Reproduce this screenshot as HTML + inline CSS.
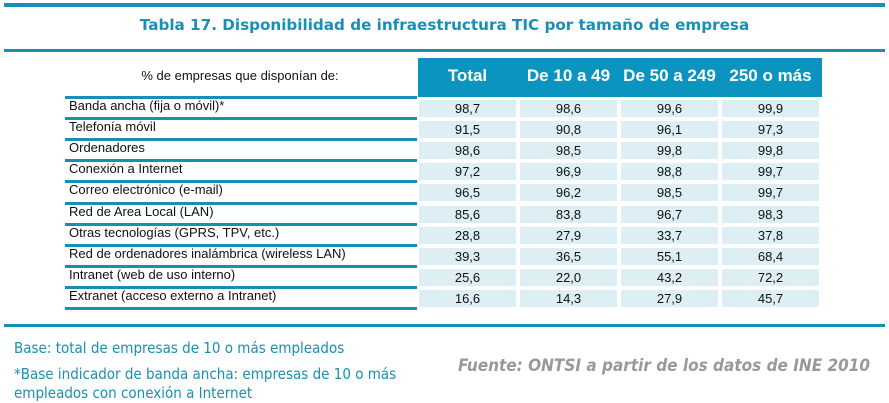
<!DOCTYPE html>
<html><head><meta charset="utf-8">
<style>
body{margin:0;width:889px;height:401px;background:#fff;position:relative;overflow:hidden;font-family:"Liberation Sans",sans-serif}
.a{position:absolute}
.hl{position:absolute;background:#1890b4}
.title{left:0;width:889px;top:16px;text-align:center;color:#1a8fb5;font:bold 15.2px "DejaVu Sans",sans-serif}
.hd{position:absolute;top:58px;height:39px;background:#0b94c0}
.hdt{position:absolute;top:66px;color:#fff;font-weight:bold;font-size:17px;text-align:center}
.lab{position:absolute;left:69px;font-size:13px;color:#111}
.cell{position:absolute;background:#ddeff5;font-size:13px;color:#111;text-align:center}
.note{position:absolute;left:14px;font:15px "DejaVu Sans Condensed","DejaVu Sans",sans-serif;color:#1a8fb5;transform-origin:0 0;white-space:nowrap}
</style></head><body>
<div class="hl" style="left:4px;top:3px;width:881px;height:4px"></div>
<div class="a title">Tabla 17. Disponibilidad de infraestructura TIC por tamaño de empresa</div>
<div class="hl" style="left:4px;top:49px;width:881px;height:3px"></div>
<div class="a" style="left:65px;width:350px;top:68px;text-align:center;font-size:13px;color:#111">% de empresas que disponían de:</div>
<div class="hd" style="left:418px;width:404px"></div>
<div id="tbl"></div>
<div class="hl" style="left:4px;top:324px;width:881px;height:3px"></div>
<div class="note" style="top:339px">Base: total de empresas de 10 o más empleados</div>
<div class="note" style="top:365px;line-height:19px">*Base indicador de banda ancha: empresas de 10 o más<br>empleados con conexión a Internet</div>
<div class="a" style="left:458px;top:356px;font:italic bold 17px 'DejaVu Sans Condensed','DejaVu Sans',sans-serif;color:#999;white-space:nowrap">Fuente: ONTSI a partir de los datos de INE 2010</div>
<script>
const columns=["Total","De 10 a 49","De 50 a 249","250 o más"];
const rowLabels=["Banda ancha (fija o móvil)*","Telefonía móvil","Ordenadores","Conexión a Internet","Correo electrónico (e-mail)","Red de Area Local (LAN)","Otras tecnologías (GPRS, TPV, etc.)","Red de ordenadores inalámbrica (wireless LAN)","Intranet (web de uso interno)","Extranet (acceso externo a Intranet)"];
const totalVals=["98,7","91,5","98,6","97,2","96,5","85,6","28,8","39,3","25,6","16,6"];
const small=["98,6","90,8","98,5","96,9","96,2","83,8","27,9","36,5","22,0","14,3"];
const medium=["99,6","96,1","99,8","98,8","98,5","96,7","33,7","55,1","43,2","27,9"];
const large=["99,9","97,3","99,8","99,7","99,7","98,3","37,8","68,4","72,2","45,7"];
const series=[totalVals,small,medium,large];
const t=document.getElementById('tbl');
const colX=[419,520,621,722],colW=97,rowTop=97,rowH=21.1;
columns.forEach((c,i)=>{
  const d=document.createElement('div');d.className='hdt';
  d.style.left=(colX[i]-2)+'px';d.style.width=(colW+4)+'px';d.textContent=c;
  
  
  t.appendChild(d);
});
rowLabels.forEach((r,j)=>{
  const y=rowTop+j*rowH;
  const ln=document.createElement('div');ln.className='hl';
  ln.style.cssText=`left:65px;width:352px;top:${y-1}px;height:3px`;
  
  
  t.appendChild(ln);
  const l=document.createElement('div');l.className='lab';
  l.style.top=(y+1)+'px';l.textContent=r;
  
  
  t.appendChild(l);
  series.forEach((s,i)=>{
    const c=document.createElement('div');c.className='cell';
    c.style.cssText=`left:${colX[i]}px;width:${colW}px;top:${y+3}px;height:${rowH-4}px;line-height:${rowH-4}px`;
    c.textContent=s[j];
    
    
    t.appendChild(c);
  });
});
const ln=document.createElement('div');ln.className='hl';
ln.style.cssText=`left:65px;width:352px;top:${rowTop+10*rowH-1}px;height:3px`;


t.appendChild(ln);
</script>
</body></html>
